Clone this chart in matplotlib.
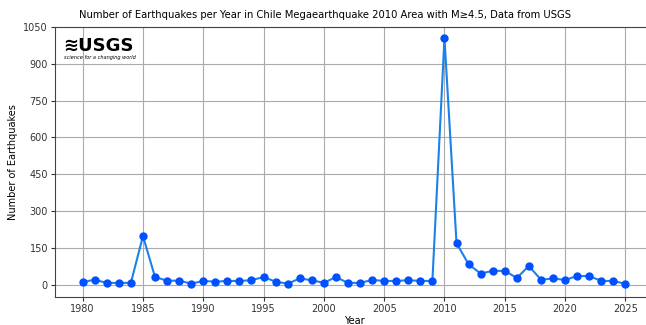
import numpy as np
import matplotlib
matplotlib.use('Agg')
import matplotlib.pyplot as plt

# yearly counts
years = list(range(1980, 2026))
counts = [10, 20, 7, 7, 7, 198, 31, 16, 16, 4,
          15, 12, 15, 15, 18, 31, 12, 4, 25, 18,
          7, 31, 7, 7, 19, 15, 15, 18, 15, 15,
          1005, 169, 83, 45, 56, 56, 27, 76, 20, 25,
          19, 35, 35, 15, 15, 3]
yticks = [0, 150, 300, 450, 600, 750, 900, 1050]
xticks = [1980, 1985, 1990, 1995, 2000, 2005, 2010, 2015, 2020, 2025]

fig = plt.figure(figsize=(6.46, 3.25), dpi=100)
ax = fig.add_axes([0.085, 0.085, 0.926, 0.832])

ax.plot(years, counts, color='#1a82e8', lw=1.5, marker='o', ms=5,
        mfc='#0050ff', mec='#0050ff')
ax.set_xticks(xticks)
ax.set_yticks(yticks)
ax.set_ylim(-52, 1050)
ax.set_xlim(1977.7, 2027.3)
ax.grid(True, color='#aaaaaa', lw=0.8)
ax.tick_params(labelsize=7, length=3, pad=2, colors='#333333')
for s in ax.spines.values():
    s.set_color('#444444')
ax.set_xlabel('Year', fontsize=7, labelpad=1)
ax.set_ylabel('Number of Earthquakes', fontsize=7)
fig.text(0.503, 0.953, 'Number of Earthquakes per Year in Chile Megaearthquake 2010 Area with M≥4.5, Data from USGS',
         fontsize=7.2, ha='center', va='center')

# USGS logo (as text)
ax.text(0.013, 0.965, '≋USGS', transform=ax.transAxes, fontsize=13,
        fontweight='bold', family='DejaVu Sans Condensed', va='top', ha='left',
        color='black')
ax.text(0.015, 0.895, 'science for a changing world', transform=ax.transAxes,
        fontsize=3.6, style='italic', va='top', ha='left', color='black')

fig.savefig('out.png', dpi=100)
